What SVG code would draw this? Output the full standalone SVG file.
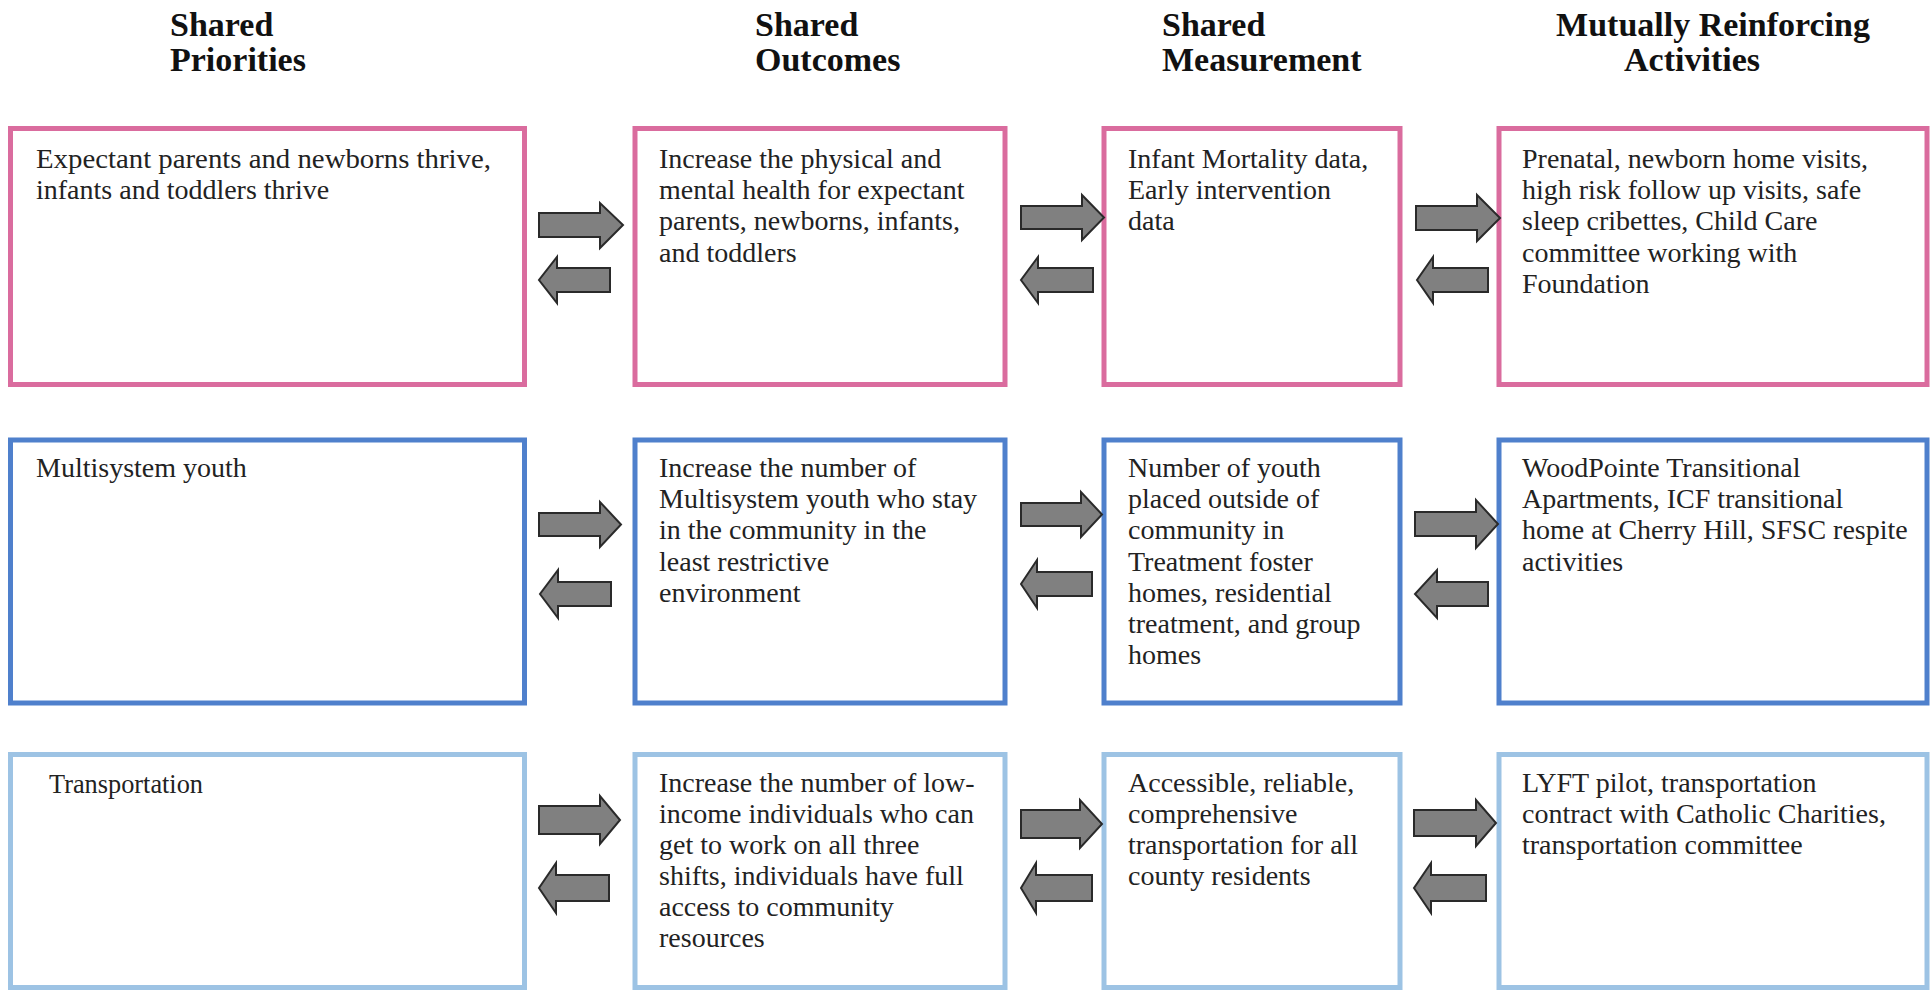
<svg xmlns="http://www.w3.org/2000/svg" width="1932" height="991" viewBox="0 0 1932 991">
<style>
.hdr{font-family:"Liberation Serif","Times New Roman",serif;font-weight:bold;font-size:34px;fill:#111}
.txt{font-family:"Liberation Serif","Times New Roman",serif;font-size:28px;fill:#222}
.box{fill:#fff;stroke-width:5}
.pink{stroke:#DA6C9E}
.blue{stroke:#4F80CC}
.lblue{stroke:#9DC3E4}
.arr{fill:#808080;stroke:#2a2a2a;stroke-width:2;stroke-linejoin:miter}
</style>
<rect x="0" y="0" width="1932" height="991" fill="#fff"/>
<g id="headers">
<text class="hdr" x="170" y="36">Shared</text>
<text class="hdr" x="170" y="71">Priorities</text>
<text class="hdr" x="755" y="36">Shared</text>
<text class="hdr" x="755" y="71">Outcomes</text>
<text class="hdr" x="1162" y="36">Shared</text>
<text class="hdr" x="1162" y="71">Measurement</text>
<text class="hdr" x="1713" y="36" text-anchor="middle">Mutually Reinforcing</text>
<text class="hdr" x="1692" y="71" text-anchor="middle">Activities</text>
</g>
<g id="r1a">
<rect class="box pink" x="10.5" y="128.5" width="514" height="256"/>
<text class="txt" x="36" y="168" textLength="455" lengthAdjust="spacingAndGlyphs">Expectant parents and newborns thrive,</text>
<text class="txt" x="36" y="199">infants and toddlers thrive</text>
</g>
<g id="r1b">
<rect class="box pink" x="635" y="128.5" width="370" height="256"/>
<text class="txt" x="659" y="168">Increase the physical and</text>
<text class="txt" x="659" y="199">mental health for expectant</text>
<text class="txt" x="659" y="230">parents, newborns, infants,</text>
<text class="txt" x="659" y="262">and toddlers</text>
</g>
<g id="r1c">
<rect class="box pink" x="1104" y="128.5" width="296" height="256"/>
<text class="txt" x="1128" y="168">Infant Mortality data,</text>
<text class="txt" x="1128" y="199">Early intervention</text>
<text class="txt" x="1128" y="230">data</text>
</g>
<g id="r1d">
<rect class="box pink" x="1499" y="128.5" width="428" height="256"/>
<text class="txt" x="1522" y="168">Prenatal, newborn home visits,</text>
<text class="txt" x="1522" y="199">high risk follow up visits, safe</text>
<text class="txt" x="1522" y="230">sleep cribettes, Child Care</text>
<text class="txt" x="1522" y="262">committee working with</text>
<text class="txt" x="1522" y="293">Foundation</text>
</g>
<g id="r2a">
<rect class="box blue" x="10.5" y="440" width="514" height="263"/>
<text class="txt" x="36" y="477">Multisystem youth</text>
</g>
<g id="r2b">
<rect class="box blue" x="635" y="440" width="370" height="263"/>
<text class="txt" x="659" y="477">Increase the number of</text>
<text class="txt" x="659" y="508">Multisystem youth who stay</text>
<text class="txt" x="659" y="539">in the community in the</text>
<text class="txt" x="659" y="571">least restrictive</text>
<text class="txt" x="659" y="602">environment</text>
</g>
<g id="r2c">
<rect class="box blue" x="1104" y="440" width="296" height="263"/>
<text class="txt" x="1128" y="477">Number of youth</text>
<text class="txt" x="1128" y="508">placed outside of</text>
<text class="txt" x="1128" y="539">community in</text>
<text class="txt" x="1128" y="571">Treatment foster</text>
<text class="txt" x="1128" y="602">homes, residential</text>
<text class="txt" x="1128" y="633">treatment, and group</text>
<text class="txt" x="1128" y="664">homes</text>
</g>
<g id="r2d">
<rect class="box blue" x="1499" y="440" width="428" height="263"/>
<text class="txt" x="1522" y="477">WoodPointe Transitional</text>
<text class="txt" x="1522" y="508">Apartments, ICF transitional</text>
<text class="txt" x="1522" y="539">home at Cherry Hill, SFSC respite</text>
<text class="txt" x="1522" y="571">activities</text>
</g>
<g id="r3a">
<rect class="box lblue" x="10.5" y="754.5" width="514" height="233"/>
<text class="txt" x="49" y="793" style="font-size:27px" textLength="154" lengthAdjust="spacingAndGlyphs">Transportation</text>
</g>
<g id="r3b">
<rect class="box lblue" x="635" y="754.5" width="370" height="233"/>
<text class="txt" x="659" y="792">Increase the number of low-</text>
<text class="txt" x="659" y="823">income individuals who can</text>
<text class="txt" x="659" y="854">get to work on all three</text>
<text class="txt" x="659" y="885">shifts, individuals have full</text>
<text class="txt" x="659" y="916">access to community</text>
<text class="txt" x="659" y="947">resources</text>
</g>
<g id="r3c">
<rect class="box lblue" x="1104" y="754.5" width="296" height="233"/>
<text class="txt" x="1128" y="792">Accessible, reliable,</text>
<text class="txt" x="1128" y="823">comprehensive</text>
<text class="txt" x="1128" y="854">transportation for all</text>
<text class="txt" x="1128" y="885">county residents</text>
</g>
<g id="r3d">
<rect class="box lblue" x="1499" y="754.5" width="428" height="233"/>
<text class="txt" x="1522" y="792">LYFT pilot, transportation</text>
<text class="txt" x="1522" y="823">contract with Catholic Charities,</text>
<text class="txt" x="1522" y="854">transportation committee</text>
</g>
<g id="connectors">
<path class="arr" d="M539,213 H600 V203 L623,225 L600,248 V237 H539 Z"/>
<path class="arr" d="M610,268 H557 V257 L539,280 L557,303 V292 H610 Z"/>
<path class="arr" d="M1021,206 H1082 V195 L1104,217.5 L1082,240 V229 H1021 Z"/>
<path class="arr" d="M1093,268 H1038 V257 L1021,280 L1038,303 V292 H1093 Z"/>
<path class="arr" d="M1416,206 H1477 V195 L1500,218 L1477,241 V230 H1416 Z"/>
<path class="arr" d="M1488,268 H1433 V257 L1417,280 L1433,303 V292 H1488 Z"/>

<path class="arr" d="M539,513 H600 V502 L621,524.5 L600,547 V536 H539 Z"/>
<path class="arr" d="M611,582 H558 V570 L540,594 L558,618 V606 H611 Z"/>
<path class="arr" d="M1021,503 H1081 V492 L1102,514.5 L1081,537 V526 H1021 Z"/>
<path class="arr" d="M1092,572 H1037 V560 L1021,584 L1037,608 V596 H1092 Z"/>
<path class="arr" d="M1415,512 H1476 V500 L1498,524 L1476,548 V536 H1415 Z"/>
<path class="arr" d="M1488,582 H1437 V570 L1415,594 L1437,618 V606 H1488 Z"/>

<path class="arr" d="M539,806 H600 V796 L620,820 L600,844 V834 H539 Z"/>
<path class="arr" d="M609,875 H556 V863 L539,888 L556,913 V901 H609 Z"/>
<path class="arr" d="M1021,810 H1080 V800 L1102,824 L1080,848 V838 H1021 Z"/>
<path class="arr" d="M1092,875 H1036 V863 L1021,888 L1036,913 V901 H1092 Z"/>
<path class="arr" d="M1414,810 H1476 V800 L1496,823 L1476,846 V836 H1414 Z"/>
<path class="arr" d="M1486,875 H1431 V863 L1414,888 L1431,913 V901 H1486 Z"/>
</g>
</svg>
